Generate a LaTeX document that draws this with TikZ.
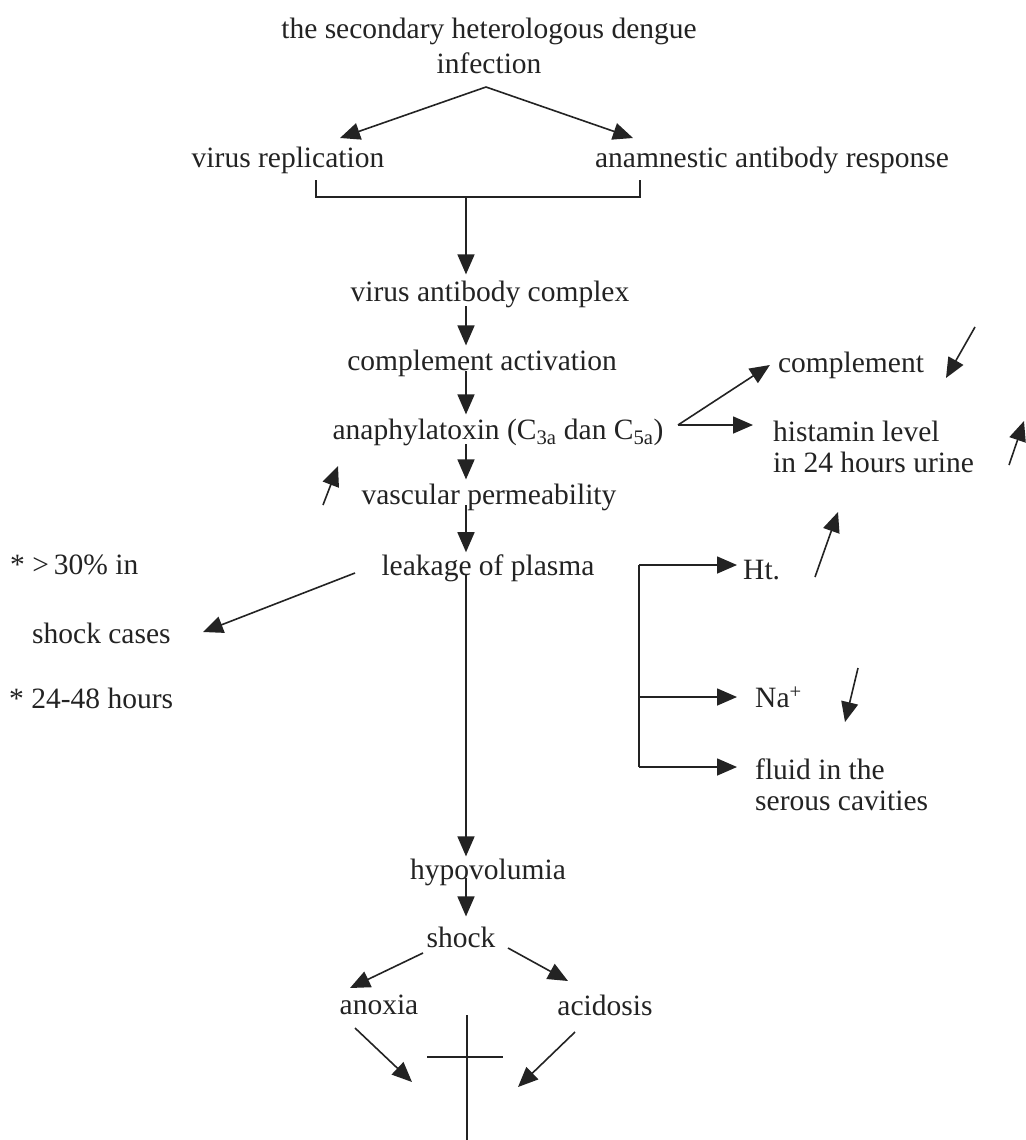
\documentclass[tikz,border=0pt]{standalone}
\usepackage{fontspec}
\setmainfont{Liberation Serif}
\usetikzlibrary{arrows.meta}
\definecolor{ink}{HTML}{232323}
\tikzset{
  lbl/.style={inner sep=0pt, text=ink, font=\fontsize{29.5}{31}\selectfont},
  conn/.style={draw=ink, line width=1.6pt, -{Triangle[length=20pt,width=17pt]}},
  plain/.style={draw=ink, line width=1.5pt},
}
\begin{document}
\begin{tikzpicture}[x=1pt,y=-1pt]
\useasboundingbox (0,0) rectangle (1025,1140);
\fill[white] (0,0) rectangle (1025,1140);

% nodes
\node[lbl, align=center, font=\fontsize{29.5}{35}\selectfont] (title) at (489,46) {the secondary heterologous dengue\\infection};
\node[lbl] (vr) at (288,160) {virus replication};
\node[lbl] (aar) at (772,160) {anamnestic antibody response};
\node[lbl] (vac) at (490,294) {virus antibody complex};
\node[lbl] (ca) at (482,363) {complement activation};
\node[lbl] (ana) at (498,432) {anaphylatoxin (C$_{\mathrm{3a}}$ dan C$_{\mathrm{5a}}$)};
\node[lbl] (vp) at (489,497) {vascular permeability};
\node[lbl] (lp) at (488,568) {leakage of plasma};
\node[lbl] (hypo) at (488,872) {hypovolumia};
\node[lbl] (shock) at (461,937) {shock};
\node[lbl] (anoxia) at (379,1005) {anoxia};
\node[lbl] (acid) at (605,1005) {acidosis};
\node[lbl] (compl) at (851,365) {complement};
\node[lbl, align=left, anchor=west] (hist) at (773,447) {histamin level\\in 24 hours urine};
\node[lbl, anchor=west] (ht) at (743,570) {Ht.};
\node[lbl, anchor=west] (na) at (755,697) {Na\textsuperscript{+}};
\node[lbl, align=left, anchor=west] (fluid) at (755,785) {fluid in the\\serous cavities};
\node[lbl, anchor=west] (pct) at (10,565) {* >\thinspace30\% in};
\node[lbl, anchor=west] (sc) at (32,633) {shock cases};
\node[lbl, anchor=west] (hrs) at (9,698) {* 24-48 hours};

% coordinates
\coordinate (apex) at (486,87);
\coordinate (tipL) at (340,138);
\coordinate (tipR) at (633,138);
\coordinate (bl) at (316,180);
\coordinate (br) at (640,180);
\coordinate (bm) at (466,197);
\coordinate (lb) at (639,565);
\coordinate (lm) at (639,697);
\coordinate (le) at (639,767);
\coordinate (crossT) at (467,1015);
\coordinate (crossB) at (467,1140);
\coordinate (crossL) at (427,1057);
\coordinate (crossR) at (503,1057);
\coordinate (anaR) at (678,425);

% top
\draw[conn] (apex) -- (tipL);
\draw[conn] (apex) -- (tipR);
\draw[plain] (bl) |- (bm) -| (br);
\draw[conn] (bm) -- ([yshift=6pt]vac.north -| bm);
\draw[conn] ([yshift=-12pt]vac.center -| bm) -- ([yshift=4pt]ca.north -| bm);
\draw[conn] ([yshift=-8pt]ca.center -| bm) -- ([yshift=4pt]ana.north -| bm);
\draw[conn] ([yshift=-12pt]ana.center -| bm) -- ([yshift=4pt]vp.north -| bm);
\draw[conn] ([yshift=-8pt]vp.center -| bm) -- ([yshift=2pt]lp.north -| bm);
\draw[conn] ([yshift=-6pt]lp.center -| bm) -- ([yshift=2pt]hypo.north -| bm);
\draw[conn] ([yshift=-6pt]hypo.center -| bm) -- ([yshift=10pt]shock.north -| bm);

% right of anaphylatoxin
\draw[conn] (anaR) -- ([xshift=-8pt]compl.west);
\draw[conn] (anaR) -- ([xshift=-20pt]hist.west |- anaR);

% indicators
\draw[conn] (975,327) -- (946,378);
\draw[conn] (1009,465) -- (1024,421);
\draw[conn] (323,505) -- (338,466);
\draw[conn] (815,577) -- (838,512);
\draw[conn] (858,668) -- (845,722);

% leakage branches
\draw[plain] (lb) -- (le);
\draw[conn] (lb) -- ([xshift=-6pt]ht.west |- lb);
\draw[conn] (lm) -- (737,697);
\draw[conn] (le) -- (737,767);
\draw[conn] (355,573) -- (203,632);

% bottom
\draw[conn] (423,953) -- (350,988);
\draw[conn] (508,948) -- (568,981);
\draw[conn] (355,1028) -- (412,1082);
\draw[conn] (575,1032) -- (518,1087);
\draw[plain, line width=1.3pt] (crossT) -- (crossB);
\draw[plain, line width=1.3pt] (crossL) -- (crossR);
\end{tikzpicture}
\end{document}
